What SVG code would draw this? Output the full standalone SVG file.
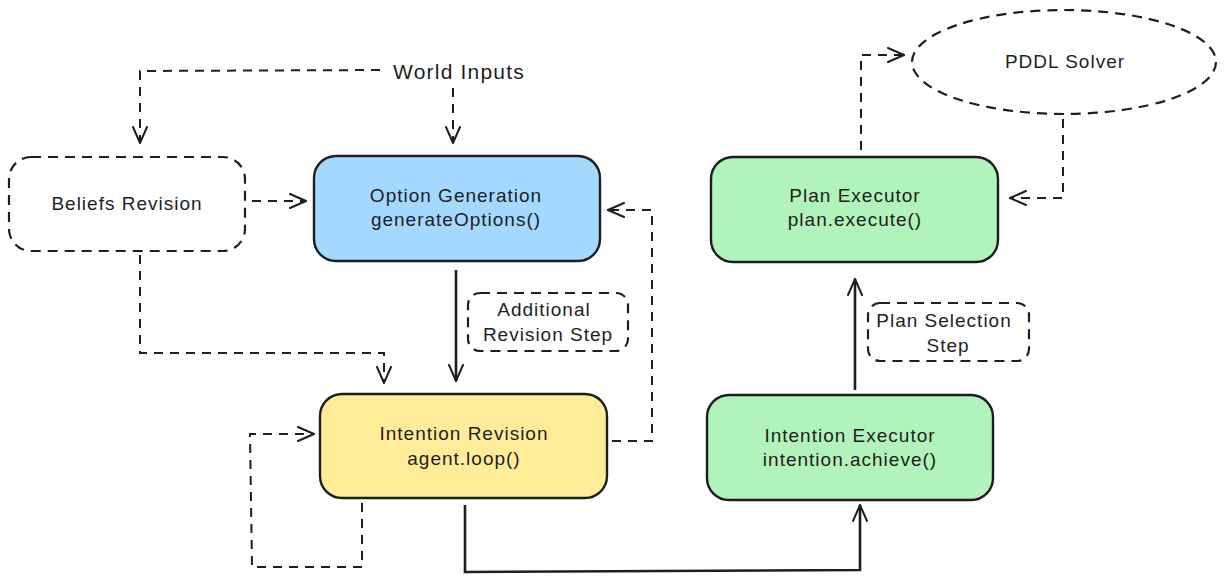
<svg xmlns="http://www.w3.org/2000/svg" width="1226" height="583" viewBox="0 0 1226 583">
<style>
text{font-family:"Liberation Sans","DejaVu Sans",sans-serif;font-size:19px;letter-spacing:1px;fill:#1e1e1e;text-anchor:middle}
.node{stroke:#1e1e1e;stroke-width:2.4}
.dash{fill:none;stroke:#1e1e1e;stroke-width:2.2;stroke-dasharray:10 7}
.solid{fill:none;stroke:#1e1e1e;stroke-width:2.6}
.c{fill:none;stroke:#1e1e1e;stroke-width:2;stroke-dasharray:9 7}
</style>
<defs>
<marker id="ah" viewBox="0 0 18 16" refX="17" refY="8" markerWidth="18" markerHeight="16" markerUnits="userSpaceOnUse" orient="auto">
<path d="M1,1 L17,8 L1,15" fill="none" stroke="#1e1e1e" stroke-width="2" stroke-dasharray="none" stroke-linecap="round"/>
</marker>
</defs>
<rect width="1226" height="583" fill="#ffffff"/>

<g id="connectors">
<path class="c" d="M380,70 L140,71 L140,143" marker-end="url(#ah)"/>
<path class="c" d="M453,88 L453,143" marker-end="url(#ah)"/>
<path class="c" d="M252,201 L306,201" marker-end="url(#ah)"/>
<path class="c" d="M140,255 L140,353 L384,353 L384,383" marker-end="url(#ah)"/>
<path class="solid" d="M456,270 L456,381" marker-end="url(#ah)"/>
<path class="c" d="M612,441 L652,441 L652,210 L608,210" marker-end="url(#ah)"/>
<path class="c" d="M362,503 L362,567 L252,567 L250,434 L314,434" marker-end="url(#ah)"/>
<path class="solid" d="M465,505 L465,572 L860,570 L860,505" marker-end="url(#ah)"/>
<path class="solid" d="M855,390 L855,279" marker-end="url(#ah)"/>
<path class="c" d="M861,150 L861,55 L904,55" marker-end="url(#ah)"/>
<path class="c" d="M1063,119 L1063,198 L1010,198" marker-end="url(#ah)"/>
</g>

<g id="world-inputs"><text x="459" y="79" style="font-size:21px;letter-spacing:1.2px">World Inputs</text></g>

<g id="beliefs-revision">
<rect x="9" y="157" width="236" height="94" rx="22" class="dash"/>
<text x="127" y="210">Beliefs Revision</text>
</g>

<g id="option-generation">
<rect x="314" y="156" width="286" height="105" rx="22" class="node" fill="#a5d8ff"/>
<text x="456" y="202">Option Generation</text>
<text x="456" y="226">generateOptions()</text>
</g>

<g id="additional-revision-step">
<rect x="468" y="293" width="160" height="58" rx="12" class="dash"/>
<text x="544" y="316">Additional</text>
<text x="548" y="341">Revision Step</text>
</g>

<g id="intention-revision">
<rect x="320" y="394" width="287" height="104" rx="22" class="node" fill="#ffec99"/>
<text x="464" y="440">Intention Revision</text>
<text x="464" y="465">agent.loop()</text>
</g>

<g id="intention-executor">
<rect x="707" y="395" width="286" height="105" rx="22" class="node" fill="#b2f2bb"/>
<text x="850" y="442">Intention Executor</text>
<text x="850" y="466">intention.achieve()</text>
</g>

<g id="plan-selection-step">
<rect x="868" y="303" width="161" height="58" rx="12" class="dash"/>
<text x="944" y="327">Plan Selection</text>
<text x="948" y="352">Step</text>
</g>

<g id="plan-executor">
<rect x="711" y="157" width="287" height="105" rx="22" class="node" fill="#b2f2bb"/>
<text x="855" y="202">Plan Executor</text>
<text x="855" y="226">plan.execute()</text>
</g>

<g id="pddl-solver">
<ellipse cx="1064" cy="62" rx="152" ry="52" class="dash"/>
<text x="1065" y="68">PDDL Solver</text>
</g>
</svg>
